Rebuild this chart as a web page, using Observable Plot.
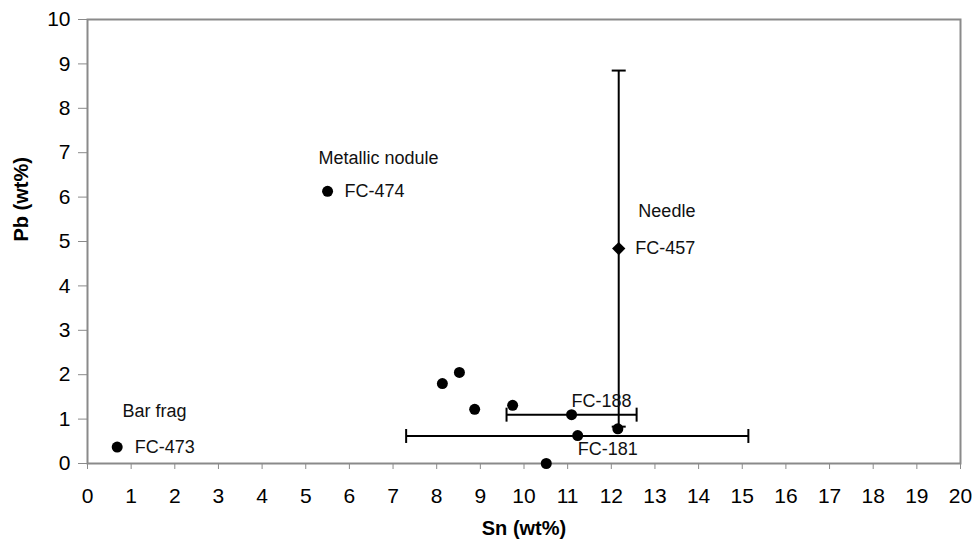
<!DOCTYPE html>
<html>
<head>
<meta charset="utf-8">
<script src="https://cdn.jsdelivr.net/npm/d3@7"></script>
<script src="https://cdn.jsdelivr.net/npm/@observablehq/plot@0.6"></script>
<style>
  html, body { margin: 0; padding: 0; background: #fff; }
  svg g[aria-label="x-axis tick label"] text, svg g[aria-label="y-axis tick label"] text { font-size: 21px; }
</style>
</head>
<body>
<div id="chart"></div>
<script>
// Circle samples (Sn wt%, Pb wt%)
const circleSn = [5.50, 0.68, 8.13, 8.52, 8.87, 9.74, 11.09, 11.23, 10.51, 12.15];
const circlePb = [6.13, 0.37, 1.80, 2.05, 1.22, 1.31, 1.10, 0.63, 0.00, 0.78];
// Diamond sample (needle)
const diamondSn = [12.17];
const diamondPb = [4.84];

// Horizontal error bars
const hErrSn = [11.09, 11.22];
const hErrPb = [1.10, 0.62];
const hErr = [1.49, 3.92];
// Vertical error bar
const vErrSn = [12.17];
const vErrPb = [4.84];
const vErr = [4.01];

// Annotation labels
const labelText = ["Metallic nodule", "FC-474", "Needle", "FC-457", "FC-188", "FC-181", "Bar frag", "FC-473"];
const labelSn   = [5.29, 5.89, 12.62, 12.55, 11.09, 11.23, 0.80, 1.08];
const labelPb   = [6.87, 6.13, 5.68, 4.84, 1.40, 0.32, 1.17, 0.37];

const xTicks = d3.range(0, 21);
const yTicks = d3.range(0, 11);

const circles = circleSn.map((x, i) => ({x, y: circlePb[i]}));
const diamonds = diamondSn.map((x, i) => ({x, y: diamondPb[i]}));
const hBars = hErrSn.map((x, i) => ({x1: x - hErr[i], x2: x + hErr[i], y: hErrPb[i]}));
const vBars = vErrSn.map((x, i) => ({x, y1: vErrPb[i] - vErr[i], y2: vErrPb[i] + vErr[i]}));
const hCaps = hBars.flatMap(d => [{x: d.x1, y: d.y}, {x: d.x2, y: d.y}]);
const vCaps = vBars.flatMap(d => [{x: d.x, y: d.y1}, {x: d.x, y: d.y2}]);
const labels = labelText.map((t, i) => ({t, x: labelSn[i], y: labelPb[i]}));

const capV = {draw(ctx, size) { const l = Math.sqrt(size / Math.PI); ctx.moveTo(0, -l); ctx.lineTo(0, l); }};
const capH = {draw(ctx, size) { const l = Math.sqrt(size / Math.PI); ctx.moveTo(-l, 0); ctx.lineTo(l, 0); }};

const gray = "#8a8a8a";

const chart = Plot.plot({
  width: 976,
  height: 548,
  marginLeft: 87,
  marginRight: 16,
  marginTop: 19,
  marginBottom: 85,
  style: {fontFamily: "'Liberation Sans', Arial, sans-serif", fontSize: "21px", background: "#fff", color: "#000"},
  x: {domain: [0, 20]},
  y: {domain: [0, 10]},
  marks: [
    Plot.axisX({ticks: xTicks, tickSize: 6, tickPadding: 19, stroke: gray, fill: "#000", fontSize: 21, label: null, tickFormat: d => d}),
    Plot.axisY({ticks: yTicks, tickSize: 9, tickPadding: 8, stroke: gray, fill: "#000", fontSize: 21, label: null, tickFormat: d => d}),
    Plot.frame({stroke: gray, strokeWidth: 2}),
    Plot.link(hBars, {x1: "x1", x2: "x2", y1: "y", y2: "y", stroke: "#000", strokeWidth: 2}),
    Plot.link(vBars, {x1: "x", x2: "x", y1: "y1", y2: "y2", stroke: "#000", strokeWidth: 2}),
    Plot.dot(hCaps, {x: "x", y: "y", symbol: capV, r: 7, stroke: "#000", fill: "none", strokeWidth: 2}),
    Plot.dot(vCaps, {x: "x", y: "y", symbol: capH, r: 7, stroke: "#000", fill: "none", strokeWidth: 2}),
    Plot.dot(circles, {x: "x", y: "y", r: 5.5, fill: "#000", stroke: "none"}),
    Plot.dot(diamonds, {x: "x", y: "y", symbol: "diamond2", r: 6, fill: "#000", stroke: "none"}),
    Plot.text(labels, {x: "x", y: "y", text: "t", textAnchor: "start", fontSize: 18, fill: "#111"}),
    Plot.text(["Sn (wt%)"], {frameAnchor: "bottom", dy: 71, fontWeight: "bold", fontSize: 20, fill: "#000"}),
    Plot.text(["Pb (wt%)"], {frameAnchor: "left", dx: -66, rotate: -90, fontWeight: "bold", fontSize: 20, fill: "#000"})
  ]
});
document.getElementById("chart").appendChild(chart);
</script>
</body>
</html>
